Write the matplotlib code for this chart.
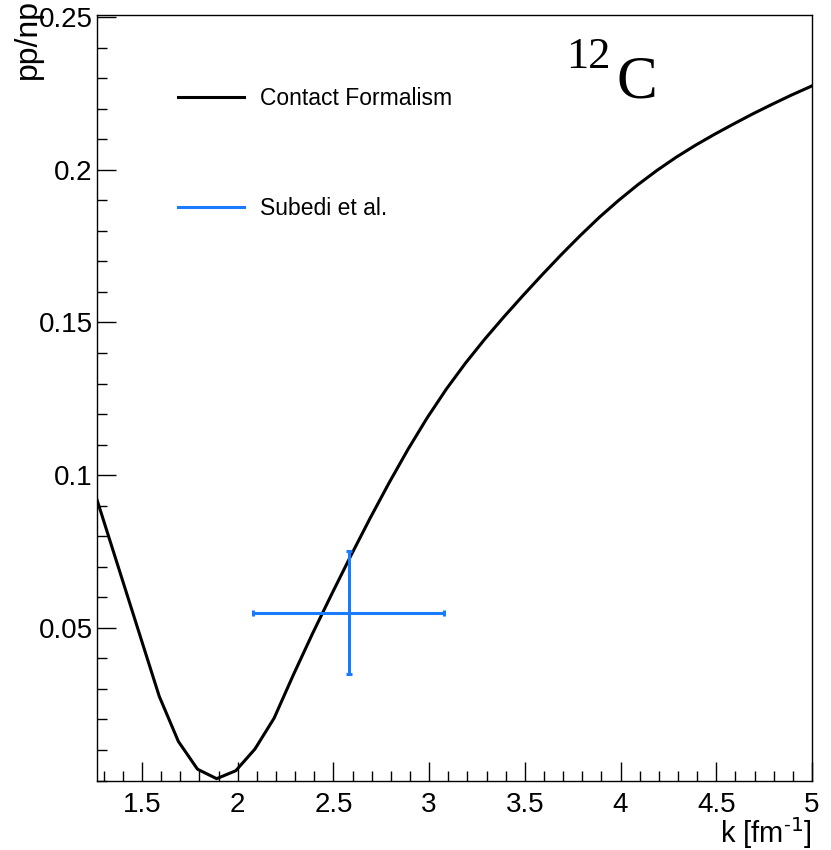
import matplotlib
matplotlib.use("Agg")
import matplotlib.pyplot as plt
from matplotlib.lines import Line2D
from matplotlib.ticker import MultipleLocator

# Contact Formalism curve
k_vals = [1.26, 1.29, 1.39, 1.49, 1.59, 1.69, 1.79, 1.89, 1.99, 2.09, 2.19,
          2.29, 2.39, 2.49, 2.59, 2.69, 2.79, 2.89, 2.99, 3.09, 3.19, 3.29,
          3.39, 3.49, 3.59, 3.69, 3.79, 3.89, 3.99, 4.09, 4.19, 4.29, 4.39,
          4.49, 4.59, 4.69, 4.79, 4.89, 4.99, 5.0]
ratio_vals = [0.0929, 0.0870, 0.0672, 0.0474, 0.0276, 0.0128, 0.0037, 0.0006,
              0.0032, 0.0103, 0.0204, 0.0345, 0.0480, 0.0609, 0.0735, 0.0857,
              0.0974, 0.1085, 0.1188, 0.1282, 0.1367, 0.1445, 0.1518, 0.1588,
              0.1656, 0.1722, 0.1785, 0.1845, 0.1900, 0.1951, 0.1998, 0.2041,
              0.2080, 0.2116, 0.2150, 0.2183, 0.2214, 0.2244, 0.2272, 0.2275]

# Subedi et al. data point
subedi_k = [2.58]
subedi_ratio = [0.055]
subedi_kerr = [0.5]
subedi_err = [0.02]

blue = "#1b7bff"

fig = plt.figure(figsize=(8.31, 8.5), dpi=100)
ax = fig.add_axes([97 / 831, 1 - 780.5 / 850, 715 / 831, 765.5 / 850])

ax.plot(k_vals, ratio_vals, color="black", lw=2.2)
ax.errorbar(subedi_k, subedi_ratio, xerr=subedi_kerr, yerr=subedi_err,
            fmt="none", ecolor=blue, elinewidth=2.2, capsize=2.5, capthick=2.2)

ax.set_xlim(1.265, 5.0)
ax.set_ylim(0, 0.2507)

ax.xaxis.set_minor_locator(MultipleLocator(0.1))
ax.yaxis.set_minor_locator(MultipleLocator(0.01))
ax.set_xticks([1.5, 2, 2.5, 3, 3.5, 4, 4.5, 5])
ax.set_xticklabels(["1.5", "2", "2.5", "3", "3.5", "4", "4.5", "5"])
ax.set_yticks([0.05, 0.1, 0.15, 0.2, 0.25])
ax.set_yticklabels(["0.05", "0.1", "0.15", "0.2", "0.25"])

font = "Liberation Sans"
ax.tick_params(which="both", direction="in", top=False, right=False,
               width=1.0, color="black")
ax.tick_params(which="major", length=14, labelsize=20)
ax.tick_params(which="minor", length=7)
ax.tick_params(axis="x", which="major", pad=8)
ax.tick_params(axis="y", which="major", pad=3)
for lab in ax.get_xticklabels() + ax.get_yticklabels():
    lab.set_fontfamily(font)
for sp in ax.spines.values():
    sp.set_linewidth(1.0)

ax.set_xlabel("k [fm$^{\\mathregular{\u2010}1}$]", fontsize=21, family=font, loc="right")
ax.xaxis.set_label_coords(1.0, -0.045)
ax.set_ylabel("pp/np", fontsize=23, family=font, loc="top")
ax.yaxis.set_label_coords(-0.0755, 1.021)

handles = [Line2D([], [], color="black", lw=2.2),
           Line2D([], [], color=blue, lw=2.2)]
ax.legend(handles, ["Contact Formalism", "Subedi et al."],
          loc="upper left", bbox_to_anchor=(0.085, 0.933), frameon=False,
          prop={"family": font, "size": 16.5}, handlelength=2.85,
          handletextpad=0.7, labelspacing=3.8)

ax.text(0.656, 0.971, "12", transform=ax.transAxes, fontsize=32,
        family="Liberation Serif", ha="left", va="top")
ax.text(0.727, 0.948, "C", transform=ax.transAxes, fontsize=44,
        family="Liberation Serif", ha="left", va="top")

fig.savefig("out.png", dpi=100)
